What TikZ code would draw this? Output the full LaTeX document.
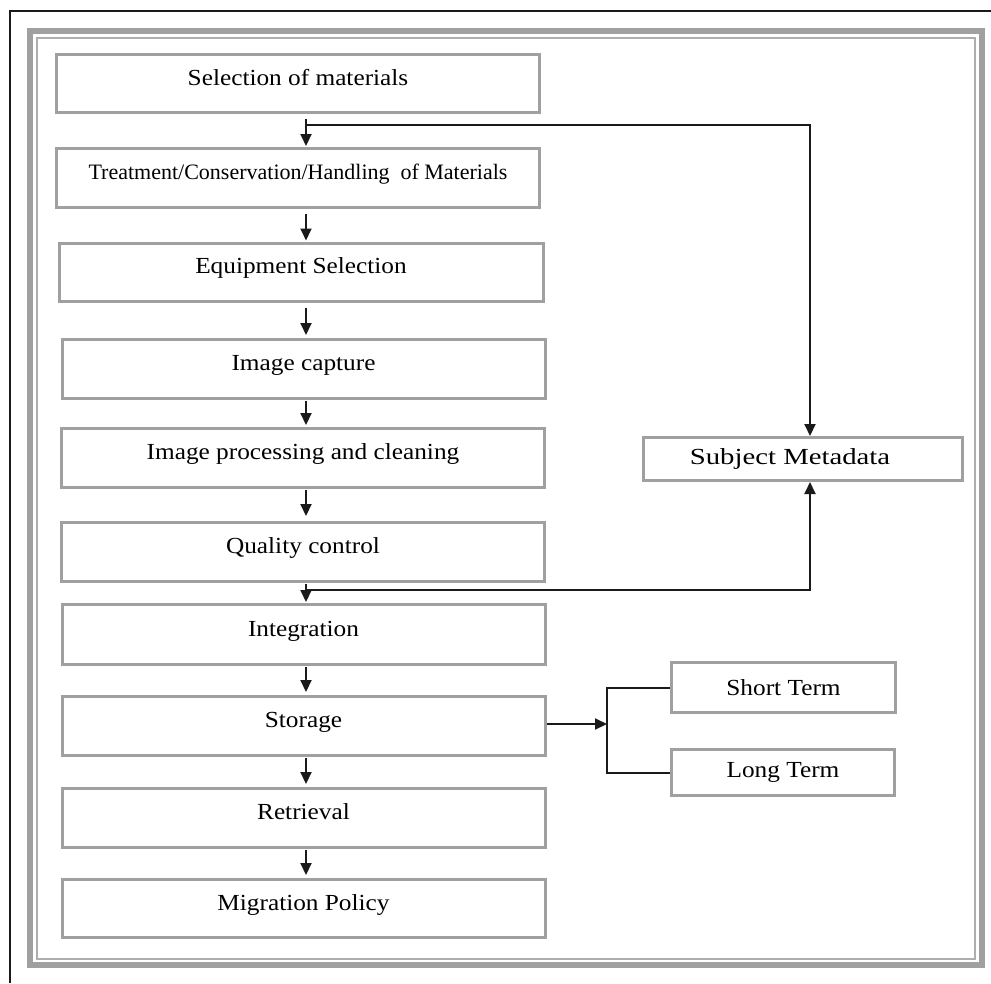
\documentclass[tikz,border=0pt]{standalone}
\usepackage{fontspec}
\setmainfont{Liberation Serif}[FakeStretch=1.1]
\newfontfamily\plainserif{Liberation Serif}
\newfontfamily\wideserif{Liberation Serif}[FakeStretch=1.25]
\usetikzlibrary{arrows.meta}
\definecolor{boxgray}{HTML}{A0A0A0}
\definecolor{framegray}{HTML}{A0A0A0}
\definecolor{inkblack}{HTML}{1A1A1A}
\begin{document}
\begin{tikzpicture}[x=1pt,y=-1pt,
  stepbox/.style={draw=boxgray, line width=3pt, fill=white, rectangle,
    minimum width=483pt, minimum height=58pt, inner sep=0pt,
    text height=17pt, text depth=14pt,
    font=\fontsize{23}{27}\selectfont},
  sidebox/.style={draw=boxgray, line width=3pt, fill=white, rectangle,
    inner sep=0pt, font=\fontsize{23}{27}\selectfont},
  arr/.style={draw=inkblack, line width=2pt, -{Triangle[length=12pt,width=11pt]}},
  ln/.style={draw=inkblack, line width=2pt}]
\useasboundingbox[fill=white] (0,0) rectangle (991,983);
% outer frames
\draw[inkblack, line width=2pt] (9.5,983) -- (9.5,10.5) -- (991,10.5);
\draw[framegray, line width=6pt] (30,31) rectangle (982,965);
\draw[framegray!85, line width=2pt] (37,38) rectangle (974.5,959);
% main column
\node[stepbox] (b1) at (298,83.5) {Selection of materials};
\node[stepbox, minimum height=59pt, font=\plainserif\fontsize{22}{26}\selectfont] (b2) at (298,178) {Treatment/Conservation/Handling\ \ of Materials};
\node[stepbox, minimum width=484pt] (b3) at (301,272) {Equipment Selection};
\node[stepbox, minimum height=59pt] (b4) at (303.5,369) {Image capture};
\node[stepbox, minimum height=59pt] (b5) at (303,458) {Image processing and cleaning};
\node[stepbox, minimum height=59pt] (b6) at (303,552) {Quality control};
\node[stepbox, minimum height=60pt] (b7) at (303.5,634.5) {Integration};
\node[stepbox, minimum height=59pt] (b8) at (303.5,726) {Storage};
\node[stepbox, minimum height=59pt] (b9) at (303.5,818) {Retrieval};
\node[stepbox] (b10) at (303.5,908.5) {Migration Policy};
% side boxes
\node[sidebox, minimum width=319pt, minimum height=43pt, font=\wideserif\fontsize{23}{27}\selectfont] (sm) at (803,459) {Subject Metadata\hspace*{26pt}};
\node[sidebox, minimum width=224pt, minimum height=50pt] (st) at (783.5,687.5) {Short Term};
\node[sidebox, minimum width=223pt, minimum height=46pt] (lt) at (783,772.5) {Long Term};
% helper coordinates
\coordinate (ax) at (306,0);
\coordinate (vx) at (810,0);
\coordinate (bx) at (607,0);
\coordinate (j1) at (306,125);
\coordinate (j2) at (306,590);
% column arrows
\draw[arr, shorten <=5pt, shorten >=1pt] (b1.south -| ax) -- (b2.north -| ax);
\draw[arr, shorten <=5pt, shorten >=1pt] (b2.south -| ax) -- (b3.north -| ax);
\draw[arr, shorten <=5pt, shorten >=3pt] (b3.south -| ax) -- (b4.north -| ax);
\draw[arr, shorten <=1pt, shorten >=2pt] (b4.south -| ax) -- (b5.north -| ax);
\draw[arr, shorten <=1pt, shorten >=5pt] (b5.south -| ax) -- (b6.north -| ax);
\draw[arr, shorten <=1pt, shorten >=1pt] (b6.south -| ax) -- (b7.north -| ax);
\draw[arr, shorten <=1pt, shorten >=3pt] (b7.south -| ax) -- (b8.north -| ax);
\draw[arr, shorten <=1pt, shorten >=3pt] (b8.south -| ax) -- (b9.north -| ax);
\draw[arr, shorten <=1pt, shorten >=3pt] (b9.south -| ax) -- (b10.north -| ax);
% feedback connectors to Subject Metadata
\draw[arr] (j1) -- (j1 -| vx) -- (sm.north -| vx);
\draw[arr] (j2) -- (j2 -| vx) -- (sm.south -| vx);
% storage branch
\draw[arr] (b8.east |- 0,724) -- (bx |- 0,724);
\draw[ln] (st.west) -- (st.west -| bx) -- (lt.west -| bx) -- (lt.west);
\end{tikzpicture}
\end{document}
